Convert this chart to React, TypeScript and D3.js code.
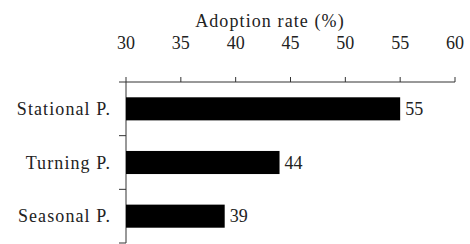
import React from 'react';
import * as d3 from 'd3';

const categories = ['Stational P.', 'Turning P.', 'Seasonal P.'];
const values = [55, 44, 39];
const xTicks = [30, 35, 40, 45, 50, 55, 60];
const axisTitle = 'Adoption rate (%)';

const width = 470;
const height = 244;
const margin = { top: 82, right: 15, bottom: 1, left: 126 };
const font = "'Liberation Serif', 'Times New Roman', serif";
const wordSpacing = 1.1; // garamond-ish look is wider than Times

const App: React.FC = () => {
  const x = d3.scaleLinear()
    .domain([30, 60])
    .range([margin.left, width - margin.right]);

  const y = d3.scaleBand<string>()
    .domain(categories)
    .range([margin.top, height - margin.bottom])
    .paddingInner(0.57)
    .paddingOuter(0.285);

  const step = y.step();
  const bandEdges = d3.range(categories.length + 1).map(i => margin.top + i * step);
  const x0 = x(30);

  return (
    <svg width={width} height={height} style={{ position: 'absolute', left: 0, top: 0, background: '#fff', fontFamily: font }}>
      <text x={270} y={27} textAnchor="middle" fontSize={18} letterSpacing={wordSpacing} fill="#222">
        {axisTitle}
      </text>

      {/* top axis */}
      <line x1={x0 - 7} x2={x(60)} y1={margin.top} y2={margin.top} stroke="#333" strokeWidth={1} />
      {xTicks.map(t => (
        <g key={t}>
          <line x1={x(t)} x2={x(t)} y1={margin.top} y2={margin.top - 5} stroke="#333" strokeWidth={1} />
          <text x={x(t)} y={49} textAnchor="middle" fontSize={18} fill="#222">{t}</text>
        </g>
      ))}

      {/* left axis */}
      <line x1={x0} x2={x0} y1={margin.top} y2={bandEdges[bandEdges.length - 1]} stroke="#333" strokeWidth={1} />
      {bandEdges.slice(1).map((e, i) => (
        <line key={i} x1={x0 - 7} x2={x0} y1={e} y2={e} stroke="#333" strokeWidth={1} />
      ))}

      {categories.map((c, i) => {
        const by = y(c)!;
        const cy = by + y.bandwidth() / 2;
        return (
          <g key={c}>
            <rect x={x0} y={by} width={x(values[i]) - x0} height={y.bandwidth()} fill="#000" />
            <text x={111} y={cy} dy="0.35em" textAnchor="end" fontSize={18} letterSpacing={wordSpacing} fill="#222">{c}</text>
            <text x={x(values[i]) + 5} y={cy} dy="0.35em" fontSize={18} fill="#222">{values[i]}</text>
          </g>
        );
      })}
    </svg>
  );
};

export default App;
